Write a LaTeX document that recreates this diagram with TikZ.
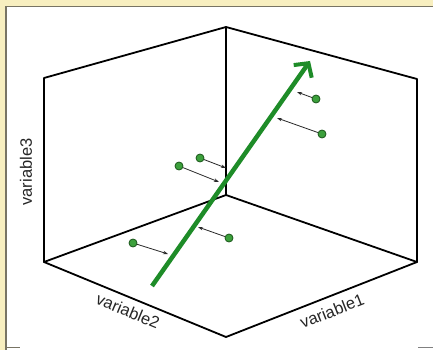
\documentclass[tikz,border=0pt]{standalone}
\usepackage{fontspec}
\setmainfont{Liberation Sans}
\usetikzlibrary{arrows.meta}
\definecolor{cream}{RGB}{248,239,192}
\definecolor{framegray}{RGB}{120,116,100}
\definecolor{vgreen}{RGB}{30,140,40}
\definecolor{ptfill}{RGB}{60,160,60}
\definecolor{ptline}{RGB}{25,85,25}
\definecolor{projgray}{RGB}{40,40,40}
\tikzset{
  edge/.style={line width=1.8pt, black, line cap=round, line join=round},
  pt/.style={circle, fill=ptfill, draw=ptline, line width=0.8pt, inner sep=0pt, minimum size=8pt},
  proj/.style={projgray, line width=0.8pt, -{Stealth[length=5pt,width=3.5pt]}},
  vec/.style={vgreen, line width=4.5pt, -{Straight Barb[length=10pt,width=22pt,line width=4pt]}},
  lab/.style={font=\fontsize{16.5}{18}\selectfont, inner sep=0pt, text=black!85}
}
\begin{document}
\begin{tikzpicture}[x=1pt,y=-1pt]
\useasboundingbox (0,0) rectangle (433,350);
% background frame
\fill[cream] (0,0) rectangle (433,350);
\fill[white] (6,7) rectangle (433,350);
\draw[framegray, line width=1.5pt] (6,350) -- (6,6.5) -- (433,6.5);
\draw[framegray, line width=1.5pt] (6,347.5) -- (20,347.5);
\draw[gray, line width=1.5pt] (418,347.5) -- (433,347.5);
% cube corners
\coordinate (O) at (226,195);
\coordinate (T) at (226,27);
\coordinate (LT) at (44,78);
\coordinate (LB) at (44,262);
\coordinate (RT) at (417,79);
\coordinate (RB) at (417,262);
\coordinate (F) at (226,337);
% cube edges
\draw[edge] (LB) -- (LT) -- (T) -- (RT) -- (RB);
\draw[edge] (T) -- (O);
\draw[edge] (LB) -- (O) -- (RB);
\draw[edge] (LB) -- (F) -- (RB);
% data points
\node[pt] (p1) at (316,99) {};
\node[pt] (p2) at (322,134) {};
\node[pt] (p3) at (200,158) {};
\node[pt] (p4) at (179,166) {};
\node[pt] (p5) at (229,238) {};
\node[pt] (p6) at (133,243) {};
\coordinate (q1) at (297,92);
\coordinate (q2) at (277,118);
\coordinate (q3) at (226,168);
\coordinate (q4) at (219,182);
\coordinate (q5) at (198,227);
\coordinate (q6) at (168,254);
\foreach \i in {1,...,6} \draw[proj] (p\i) -- (q\i);
% principal vector
\coordinate (vs) at (152,286);
\coordinate (ve) at (310,61);
\draw[vec] (vs) -- (ve);
% labels
\node[lab, rotate=90] (l3) at (26,172) {variable3};
\node[lab, rotate=-22.4] (l2) at (128,311) {variable2};
\node[lab, rotate=21.4] (l1) at (332,311) {variable1};
\end{tikzpicture}
\end{document}
